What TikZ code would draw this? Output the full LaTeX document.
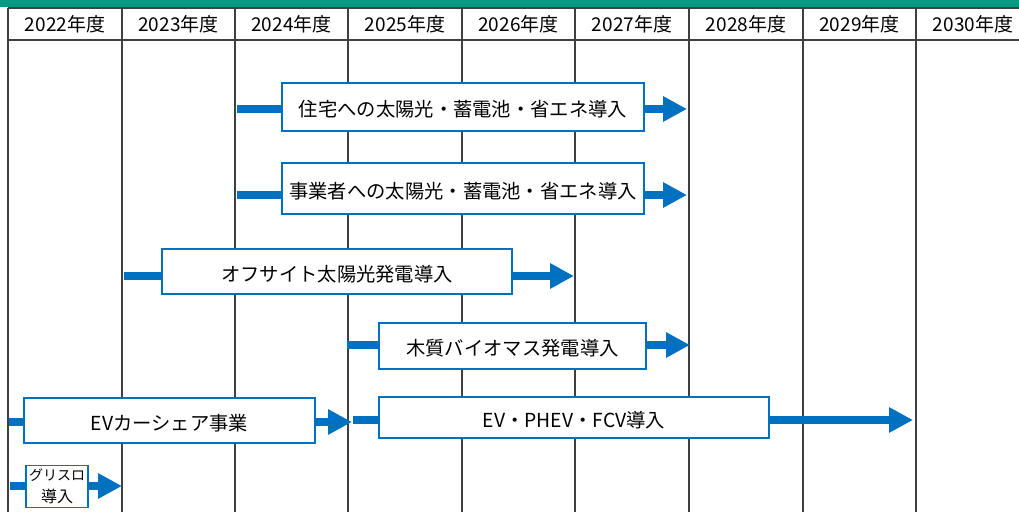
\documentclass[tikz,border=0pt]{standalone}
\usepackage{fontspec}
\setmainfont{Noto Sans CJK JP}
\usetikzlibrary{arrows.meta}
\definecolor{bandgreen}{RGB}{0,155,130}
\definecolor{barblue}{RGB}{0,112,192}
\definecolor{gridgray}{RGB}{64,64,64}
\tikzset{
  gridline/.style={draw=gridgray, line width=1.5pt},
  yearlbl/.style={font=\fontsize{19}{22}\selectfont, inner sep=0pt, text=black},
  planbox/.style={draw=barblue, line width=1.8pt, fill=white, inner sep=0pt,
    font=\fontsize{19.3}{23}\selectfont, text=black},
  onetext/.style={text height=20pt, text depth=0.4pt},
  shaft/.style={draw=barblue, line width=8pt},
  arr/.style={draw=barblue, line width=8pt, -{Triangle[length=24pt,width=24pt]}},
}
\begin{document}
\begin{tikzpicture}[x=1pt,y=-1pt]
\useasboundingbox (0,0) rectangle (1019,511);
\clip (0,0) rectangle (1019,511);
% top band
\fill[bandgreen] (0,0) rectangle (1019,7);
% grid
\draw[gridline] (8,8) -- (1040,8);
\draw[gridline] (8,40) -- (1040,40);
\foreach \x in {8,122,235,348,462,575,689,803,916}
  \draw[gridline] (\x,8) -- (\x,515);
% year labels
\node[yearlbl] (y22) at (65,24.5) {2022年度};
\node[yearlbl] (y23) at (178.5,24.5) {2023年度};
\node[yearlbl] (y24) at (291.5,24.5) {2024年度};
\node[yearlbl] (y25) at (405,24.5) {2025年度};
\node[yearlbl] (y26) at (518.5,24.5) {2026年度};
\node[yearlbl] (y27) at (632,24.5) {2027年度};
\node[yearlbl] (y28) at (746,24.5) {2028年度};
\node[yearlbl] (y29) at (859.5,24.5) {2029年度};
\node[yearlbl] (y30) at (973,24.5) {2030年度};
% coordinates
\coordinate (s1) at (237,109); \coordinate (t1) at (687,109);
\coordinate (s2) at (237,195); \coordinate (t2) at (687,195);
\coordinate (s3) at (124,276); \coordinate (t3) at (574,276);
\coordinate (s4) at (347,345); \coordinate (t4) at (690,345);
\coordinate (s5) at (9,422);   \coordinate (t5) at (352,422);
\coordinate (s6) at (353,420); \coordinate (t6) at (913,420);
\coordinate (s7) at (10,486);  \coordinate (t7) at (122,486);
% boxes
\node[planbox, onetext, minimum width=362pt, minimum height=48pt] (b1) at (463,107) {住宅への太陽光・蓄電池・省エネ導入};
\node[planbox, onetext, minimum width=362pt, minimum height=51pt] (b2) at (463,188.5) {事業者への太陽光・蓄電池・省エネ導入};
\node[planbox, onetext, minimum width=350pt, minimum height=45pt] (b3) at (337,271.5) {オフサイト太陽光発電導入};
\node[planbox, onetext, minimum width=267pt, minimum height=46pt] (b4) at (512.5,346) {木質バイオマス発電導入};
\node[planbox, onetext, minimum width=291pt, minimum height=45pt] (b5) at (169.5,420.5) {EVカーシェア事業};
\node[planbox, onetext, minimum width=390pt, minimum height=41pt] (b6) at (574,417.5) {EV・PHEV・FCV導入};
\node[planbox, minimum width=62pt, minimum height=42pt, align=center,
  font=\fontsize{16}{22}\selectfont] (b7) at (57,486.5) {{\fontsize{14}{22}\selectfont グリスロ}\\導入};
% connectors
\draw[shaft] (s1) -- (s1 -| b1.west);
\draw[arr] (t1 -| b1.east) -- (t1);
\draw[shaft] (s2) -- (s2 -| b2.west);
\draw[arr] (t2 -| b2.east) -- (t2);
\draw[shaft] (s3) -- (s3 -| b3.west);
\draw[arr] (t3 -| b3.east) -- (t3);
\draw[shaft] (s4) -- (s4 -| b4.west);
\draw[arr] (t4 -| b4.east) -- (t4);
\draw[shaft] (s5) -- (s5 -| b5.west);
\draw[arr] (t5 -| b5.east) -- (t5);
\draw[shaft] (s6) -- (s6 -| b6.west);
\draw[arr] (t6 -| b6.east) -- (t6);
\draw[shaft] (s7) -- (s7 -| b7.west);
\draw[arr] (t7 -| b7.east) -- (t7);
\end{tikzpicture}
\end{document}
